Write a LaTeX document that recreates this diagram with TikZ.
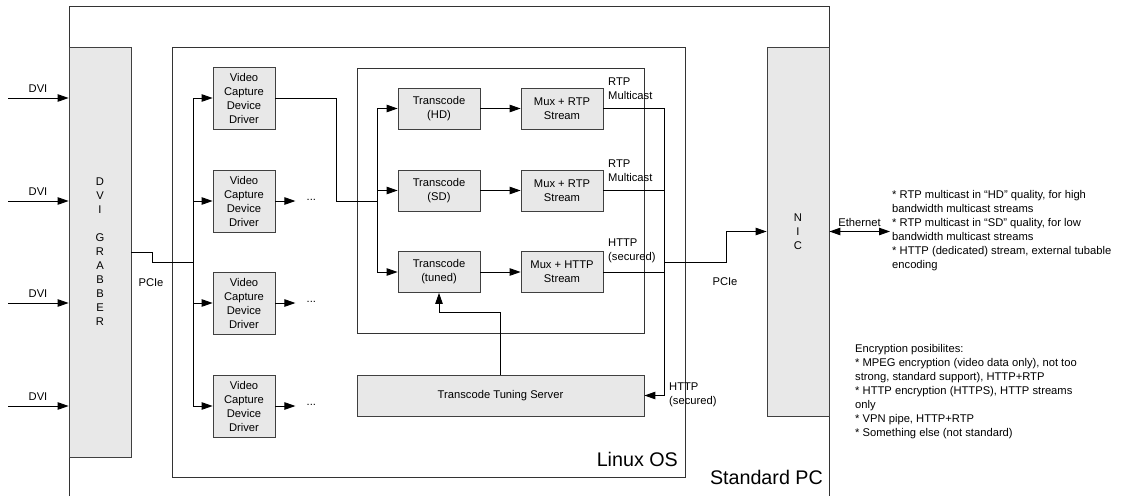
\documentclass[tikz,border=0pt]{standalone}
\usepackage{fontspec}
\setmainfont{Liberation Sans}
\usetikzlibrary{arrows.meta,calc}
\begin{document}
\begin{tikzpicture}[x=1pt,y=-1pt,
  font=\fontsize{11.2}{14}\selectfont,
  box/.style={draw=black!75, fill=black!9, line width=0.8pt, inner sep=0pt, align=center},
  frame/.style={draw=black!80, line width=0.8pt, inner sep=0pt},
  wire/.style={line width=0.9pt},
  tip/.tip={Triangle[length=11pt,width=7.5pt]},
  arr/.style={wire, -tip},
  dblarr/.style={wire, tip-tip},
  lbl/.style={inner sep=0pt, align=left},
  big/.style={inner sep=0pt, font=\fontsize{19.7}{22}\selectfont},
]
\useasboundingbox (0,0) rectangle (1127,496);

% Standard PC enclosure (open at the bottom)
\draw[frame] (69,496) |- (829,6) -- (829,496);

% Linux OS and the transcoding group
\node[frame, minimum width=513pt, minimum height=430pt] (linux) at (428.5,262) {};
\node[frame, minimum width=287pt, minimum height=265pt] (group) at (500.5,200.5) {};

% Hardware
\node[box, minimum width=62pt, minimum height=410pt] (grabber) at (100,252)
  {D\\V\\I\\[14pt]G\\R\\A\\B\\B\\E\\R};
\node[box, minimum width=62pt, minimum height=369pt] (nic) at (798,231.5) {N\\I\\C};

% Capture drivers
\foreach \i/\y in {1/98,2/201,3/303,4/406}
  \node[box, minimum width=62pt, minimum height=62pt] (vcd\i) at (244,\y)
    {Video\\Capture\\Device\\Driver};

% Transcoders and muxers
\node[box, minimum width=82pt, minimum height=41pt] (tHD) at (439,108.5) {Transcode\\(HD)};
\node[box, minimum width=82pt, minimum height=41pt] (tSD) at (439,190.5) {Transcode\\(SD)};
\node[box, minimum width=82pt, minimum height=41pt] (tTu) at (439,272) {Transcode\\(tuned)};
\node[box, minimum width=82pt, minimum height=41pt] (mHD) at (562,108.5) {Mux + RTP\\Stream};
\node[box, minimum width=82pt, minimum height=41pt] (mSD) at (562,190.5) {Mux + RTP\\Stream};
\node[box, minimum width=82pt, minimum height=41pt] (mTu) at (562,272) {Mux + HTTP\\Stream};
\node[box, minimum width=287pt, minimum height=41pt] (server) at (500.5,395.5) {Transcode Tuning Server};

% Junction points
\coordinate (in1) at (8,98);
\coordinate (in2) at (8,201);
\coordinate (in3) at (8,303);
\coordinate (in4) at (8,406);
\coordinate (bus) at (193,262);
\coordinate (split) at (377,201);
\coordinate (srvin) at (664,395.5);
\coordinate (nicout) at (664,262);
\coordinate (eth) at (890,231.5);

% DVI inputs
\foreach \i in {1,...,4} {
  \draw[arr] (in\i) -- (in\i -| grabber.west);
  \node[inner sep=0pt] at ($(in\i)+(30,-9)$) {DVI};
}

% PCIe from grabber to the drivers
\draw[wire] (grabber.east) -- ++(21,0) |- (bus);
\foreach \i in {1,...,4}
  \draw[arr] (bus) |- (vcd\i.west);
\node[inner sep=0pt] at (151,283) {PCIe};

% Driver outputs
\foreach \i in {2,3,4} {
  \draw[arr] (vcd\i.east) -- ++(20,0) coordinate (d\i);
  \node[inner sep=0pt] at ($(d\i)+(16,-1)$) {...};
}
\draw[wire] (vcd1.east) -- (336,98) |- (split);
\draw[arr] (split) |- (tHD.west);
\draw[arr] (split) |- (tSD.west);
\draw[arr] (split) |- (tTu.west);

% Transcode -> mux
\draw[arr] (tHD) -- (mHD);
\draw[arr] (tSD) -- (mSD);
\draw[arr] (tTu) -- (mTu);

% Mux outputs
\draw[arr] (mHD.east) -| (srvin) -- (server.east);
\draw[wire] (mSD.east) -- (mSD.east -| srvin);
\draw[wire] (mTu.east) -- (mTu.east -| srvin);
\draw[arr] (nicout) -- ++(62,0) |- (nic.west);
\node[inner sep=0pt] at (725,282) {PCIe};

% Tuning feedback
\draw[arr] (server.north) -- ++(0,-62) -| (tTu.south);

% Ethernet
\draw[dblarr] (nic.east |- eth) -- (eth);
\node[inner sep=0pt] at (859.5,222) {Ethernet};

% Stream labels
\node[lbl, anchor=west] at (608,88.5) {RTP\\Multicast};
\node[lbl, anchor=west] at (608,170.5) {RTP\\Multicast};
\node[lbl, anchor=west] at (608,251) {HTTP\\(secured)};
\node[lbl, anchor=west] at (669,395) {HTTP\\(secured)};

% Enclosure titles
\node[big, anchor=east] at (678,459) {Linux OS};
\node[big, anchor=east] at (823,477) {Standard PC};

% Notes
\node[lbl, anchor=west] at (892,231) {* RTP multicast in “HD” quality, for high\\bandwidth multicast streams\\* RTP multicast in “SD” quality, for low\\bandwidth multicast streams\\* HTTP (dedicated) stream, external tubable\\encoding};
\node[lbl, anchor=west] at (855,392) {Encryption posibilites:\\* MPEG encryption (video data only), not too\\strong, standard support), HTTP+RTP\\* HTTP encryption (HTTPS), HTTP streams\\only\\* VPN pipe, HTTP+RTP\\* Something else (not standard)};
\end{tikzpicture}
\end{document}
